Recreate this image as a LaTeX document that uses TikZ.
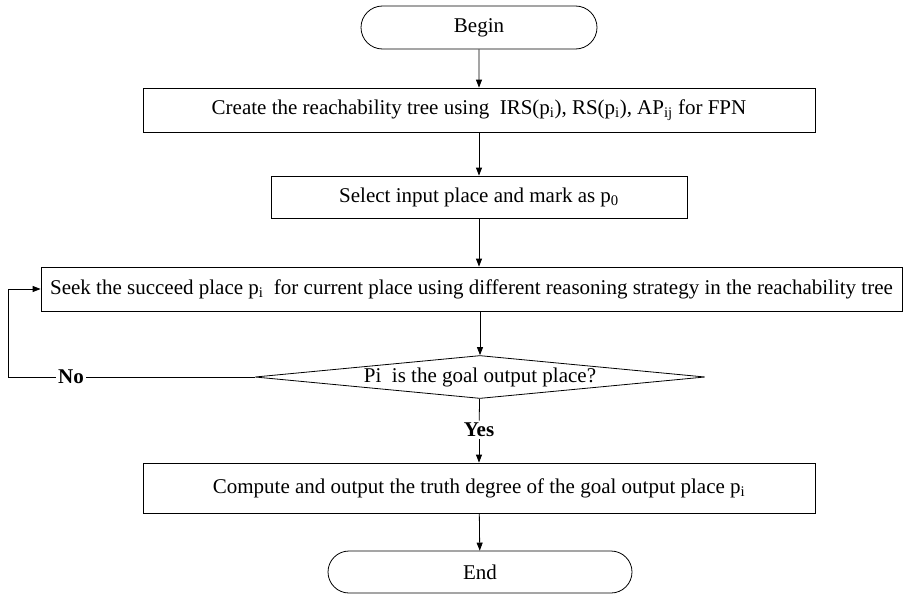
\documentclass[tikz,border=0pt]{standalone}
\usepackage{fontspec}
\setmainfont{Liberation Serif}
\usetikzlibrary{shapes.geometric,shapes.misc,arrows.meta}
\newcommand{\lowsub}[1]{\textsubscript{#1}}

\begin{document}
\begin{tikzpicture}[x=1pt,y=-1pt
	,font=\fontsize{21}{25}\selectfont
	,every node/.style={
	draw
	,inner sep=0
	,line width=0.8pt
}
	,box/.style={rectangle, minimum height=44}
	,terminal/.style={rounded rectangle, minimum height=43}
	,decision/.style={diamond, aspect=10, minimum width=450, minimum height=43}
	,answer/.style={draw=none, fill=white, inner sep=2pt, font=\fontsize{21}{25}\selectfont\bfseries}
	,flow/.style={line width=0.8pt, -{Triangle[length=8pt,width=6pt]}}
]

\useasboundingbox (0,0) rectangle (917,594);

\node[terminal, minimum width=236](begin) at(479,27.5) {Begin};
\node[box, minimum width=672](create) at(479,110) {Create the reachability tree using\ \ IRS(p\lowsub{i}), RS(p\lowsub{i}), AP\lowsub{ij} for FPN};
\node[box, minimum width=416, minimum height=42](select) at(479,197) {Select input place and mark as p\lowsub{0}};
\node[box, minimum width=861](seek) at(471.5,289) {Seek the succeed place p\lowsub{i}\ \ for current place using different reasoning strategy in the reachability tree};
\node[decision](goal) at(480,377) {Pi\ \ is the goal output place?};
\node[answer](yes) at(479,430) {Yes};
\node[answer](no) at(71,377) {No};
\node[box, minimum width=672, minimum height=50](compute) at(479,488) {Compute and output the truth degree of the goal output place p\lowsub{i}};
\node[terminal, minimum width=304, minimum height=42](end) at(480,572) {End};
\coordinate(loop) at(8,377);

\foreach \u \v in {
	begin/create,create/select%
	,yes/compute,compute/end%
}{
	\draw[flow] (\u) -- (\v);
}
\draw[flow] (select.south) -- (select.south |- seek.north);
\draw[flow] (seek.south -| goal.north) -- (goal.north);
\draw[line width=0.8pt] (goal) -- (yes);
\draw[line width=0.8pt] (goal.west) -- (no.east);
\draw[flow] (no.west) -- (loop) |- (seek.west);

\end{tikzpicture}
\end{document}
